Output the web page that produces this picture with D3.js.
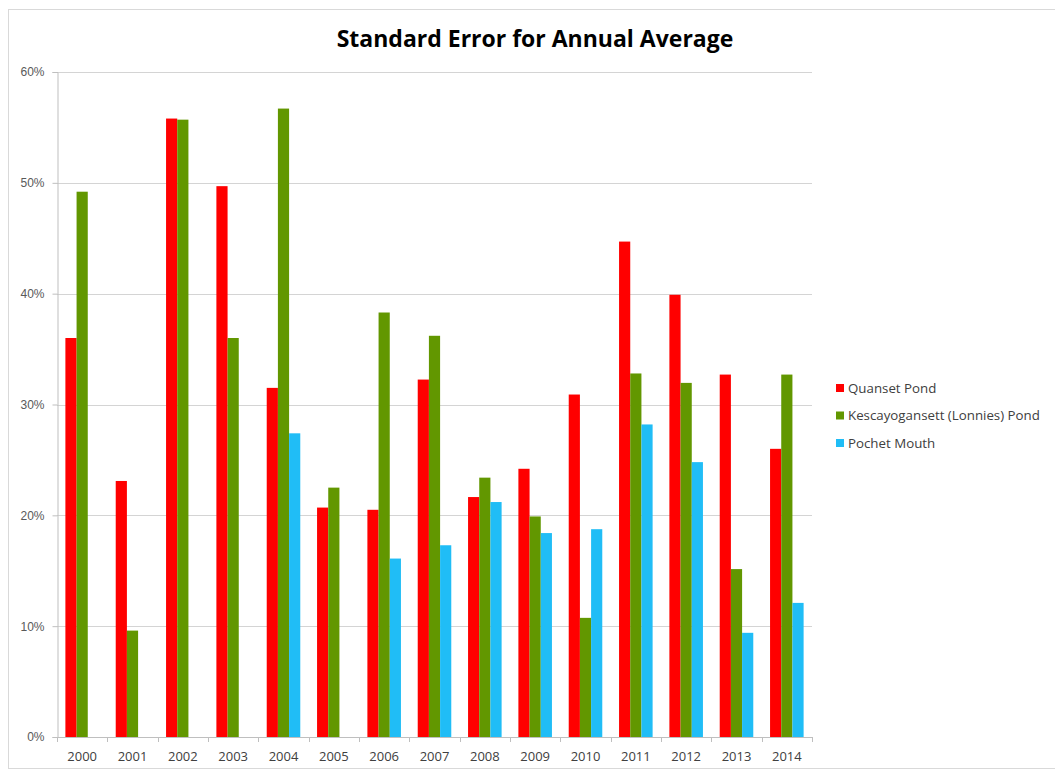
<!DOCTYPE html>
<head>
  <meta charset="utf-8">
  <style>
    body { margin: 0; background: #fff; }
    svg { font-family: "Open Sans", "Liberation Sans", sans-serif; }
    .grid line { stroke: #d4d4d4; }
    .yaxis text { fill: #595959; font-size: 12px; }
    .xlab { fill: #404040; font-size: 13px; }
    .legend text { fill: #404040; font-size: 13.3px; }
  </style>
  <script src="https://d3js.org/d3.v7.min.js"></script>
</head>

<body>
  <script>
  // data (fractions)
  var years = ["2000","2001","2002","2003","2004","2005","2006","2007",
               "2008","2009","2010","2011","2012","2013","2014"];
  var seriesNames = ["Quanset Pond", "Kescayogansett (Lonnies) Pond", "Pochet Mouth"];
  var quanset = [0.360, 0.231, 0.558, 0.497, 0.315, 0.207, 0.205, 0.3225,
                 0.2165, 0.242, 0.309, 0.447, 0.399, 0.327, 0.260];
  var kescayogansett = [0.492, 0.096, 0.557, 0.360, 0.567, 0.225, 0.383, 0.362,
                        0.234, 0.199, 0.1075, 0.328, 0.3195, 0.1515, 0.327];
  var pochet = [null, null, null, null, 0.274, null, 0.161, 0.173,
                0.212, 0.184, 0.1875, 0.282, 0.248, 0.094, 0.121];
  var yTicks = [0, 0.1, 0.2, 0.3, 0.4, 0.5, 0.6];
  var colors = ["#ff0000", "#629700", "#20bdf6"];

  var values = [quanset, kescayogansett, pochet];

  var W = 1055, H = 771;
  var plotLeft = 57, plotRight = 812, plotTop = 72, plotBottom = 737;

  var svg = d3.select("body").append("svg")
      .attr("width", W)
      .attr("height", H);

  // outer chart border
  svg.append("rect")
      .attr("x", 8.5).attr("y", 9.5)
      .attr("width", 1060).attr("height", 759)
      .attr("fill", "none")
      .attr("stroke", "#d9d9d9");

  // title
  svg.append("text")
      .attr("x", 535).attr("y", 47)
      .attr("text-anchor", "middle")
      .style("font-size", "23px")
      .style("font-weight", "bold")
      .style("fill", "#000")
      .text("Standard Error for Annual Average");

  // scales
  var x = d3.scaleBand()
      .domain(years)
      .range([plotLeft, plotRight])
      .paddingInner(1/3)
      .paddingOuter(1/6);

  var xs = d3.scaleBand()
      .domain(d3.range(seriesNames.length))
      .range([0, x.bandwidth()]);

  var y = d3.scaleLinear()
      .domain([0, 0.6])
      .range([plotBottom, plotTop]);

  // gridlines
  svg.append("g")
      .attr("class", "grid")
      .selectAll("line")
      .data(yTicks.slice(1))
    .enter().append("line")
      .attr("x1", plotLeft).attr("x2", plotRight)
      .attr("y1", function(d) { return Math.round(y(d)) + 0.5; })
      .attr("y2", function(d) { return Math.round(y(d)) + 0.5; });

  // y axis
  var yAxis = svg.append("g")
      .attr("class", "yaxis")
      .attr("transform", "translate(" + (plotLeft + 0.5) + ",0)")
      .call(d3.axisLeft(y)
              .tickValues(yTicks)
              .tickFormat(d3.format(".0%"))
              .tickSize(5)
              .tickPadding(8));
  yAxis.select(".domain").attr("stroke", "#bfbfbf");
  yAxis.selectAll(".tick line").attr("stroke", "#bfbfbf");
  yAxis.selectAll(".tick text").attr("dy", "0.32em");

  // bars
  var rows = years.map(function(yr, i) {
    return { year: yr, vals: values.map(function(s) { return s[i]; }) };
  });

  var groups = svg.selectAll(".grp")
      .data(rows)
    .enter().append("g")
      .attr("class", "grp")
      .attr("transform", function(d) { return "translate(" + x(d.year) + ",0)"; });

  groups.selectAll("rect")
      .data(function(d) {
        return d.vals.map(function(v, k) { return { k: k, v: v }; })
                     .filter(function(e) { return e.v !== null; });
      })
    .enter().append("rect")
      .attr("x", function(d) { return xs(d.k); })
      .attr("width", xs.bandwidth())
      .attr("y", function(d) { return y(d.v); })
      .attr("height", function(d) { return plotBottom - y(d.v); })
      .attr("fill", function(d) { return colors[d.k]; });

  // x axis line and category boundary ticks
  svg.append("line")
      .attr("x1", plotLeft).attr("x2", plotRight)
      .attr("y1", plotBottom + 0.5).attr("y2", plotBottom + 0.5)
      .attr("stroke", "#bfbfbf");

  svg.selectAll(".xtick")
      .data(d3.range(years.length + 1))
    .enter().append("line")
      .attr("class", "xtick")
      .attr("x1", function(i) { return Math.round(plotLeft + i * x.step()) + 0.5; })
      .attr("x2", function(i) { return Math.round(plotLeft + i * x.step()) + 0.5; })
      .attr("y1", plotBottom).attr("y2", plotBottom + 5)
      .attr("stroke", "#bfbfbf");

  svg.selectAll(".xlab")
      .data(years)
    .enter().append("text")
      .attr("class", "xlab")
      .attr("x", function(d) { return x(d) + x.bandwidth() / 2; })
      .attr("y", 761)
      .attr("text-anchor", "middle")
      .text(function(d) { return d; });

  // legend
  var legend = svg.append("g")
      .attr("class", "legend")
      .attr("transform", "translate(836,384)");

  var items = legend.selectAll("g")
      .data(seriesNames)
    .enter().append("g")
      .attr("transform", function(d, i) { return "translate(0," + (i * 27.5) + ")"; });

  items.append("rect")
      .attr("width", 8).attr("height", 8)
      .attr("fill", function(d, i) { return colors[i]; });

  items.append("text")
      .attr("x", 12).attr("y", 4)
      .attr("dy", "0.35em")
      .text(function(d) { return d; });
  </script>
</body>
</html>
